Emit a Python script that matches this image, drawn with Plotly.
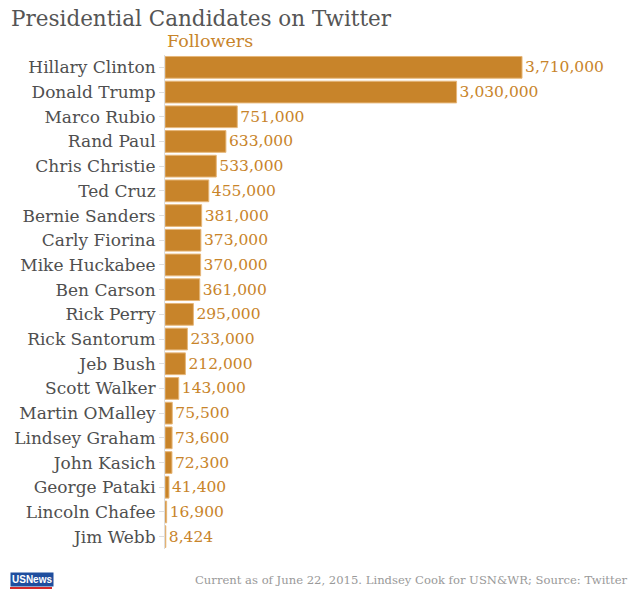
import plotly.graph_objects as go

# candidates, top to bottom as in the chart
candidates = ["Hillary Clinton", "Donald Trump", "Marco Rubio", "Rand Paul",
              "Chris Christie", "Ted Cruz", "Bernie Sanders", "Carly Fiorina",
              "Mike Huckabee", "Ben Carson", "Rick Perry", "Rick Santorum",
              "Jeb Bush", "Scott Walker", "Martin OMalley", "Lindsey Graham",
              "John Kasich", "George Pataki", "Lincoln Chafee", "Jim Webb"]
followers = [3710000, 3030000, 751000, 633000, 533000, 455000, 381000, 373000,
             370000, 361000, 295000, 233000, 212000, 143000, 75500, 73600,
             72300, 41400, 16900, 8424]

orange = "#c8842a"
font = "DejaVu Serif"

# plot area in pixels, used to place the outside texts
L, R, T, B = 165, 20, 55, 42
W, H = 640, 591
pw = W - L - R


def px_x(x):
    return (x - L) / pw


def px_y(y):
    return (H - B - y) / (H - T - B)


fig = go.Figure()
fig.add_trace(go.Bar(
    x=followers,
    y=candidates,
    orientation="h",
    marker=dict(color=orange, line=dict(color="#e6b77a", width=1)),
    text=[f"{v:,}" for v in followers],
    textposition="outside",
    textfont=dict(family=font, size=15.5, color=orange),
    cliponaxis=False,
    hoverinfo="x+y",
))

fig.update_layout(
    width=W, height=H,
    margin=dict(l=L, r=R, t=T, b=B),
    plot_bgcolor="white", paper_bgcolor="white",
    bargap=0.12,
    showlegend=False,
    font=dict(family=font, color="#555555"),
)
fig.update_xaxes(range=[0, 4.728e6], visible=False)
fig.update_yaxes(
    categoryorder="array", categoryarray=candidates[::-1],
    showline=True, linecolor="#dddddd", linewidth=1,
    ticks="outside", ticklen=5, tickcolor="#dddddd",
    tickfont=dict(family=font, size=17, color="#4f4f4f"),
    showgrid=False,
)

# title, subtitle and footer
fig.add_annotation(text="Presidential Candidates on Twitter", xref="paper", yref="paper",
                   x=px_x(9), y=1, yshift=37, xanchor="left", yanchor="middle",
                   showarrow=False, font=dict(family=font, size=21.5, color="#555555"))
fig.add_annotation(text="Followers", xref="paper", yref="paper",
                   x=0, y=1, yshift=14, xanchor="left", yanchor="middle",
                   showarrow=False, font=dict(family=font, size=17.5, color=orange))
fig.add_annotation(text="Current as of June 22, 2015. Lindsey Cook for USN&WR; Source: Twitter",
                   xref="paper", yref="paper", x=px_x(630), y=0, yshift=-31,
                   xanchor="right", yanchor="middle", showarrow=False,
                   font=dict(family=font, size=11.6, color="#999999"))
# USNews logo
fig.add_annotation(text="<b>USNews</b>", xref="paper", yref="paper",
                   x=px_x(10), y=0, yshift=-30, xanchor="left", yanchor="middle",
                   showarrow=False, bgcolor="#1f4e9e", borderpad=1,
                   font=dict(family="Liberation Sans", size=10, color="white"))
fig.add_shape(type="line", xref="paper", yref="paper",
              x0=px_x(10), x1=px_x(52), y0=px_y(588), y1=px_y(588),
              line=dict(color="#d42a2a", width=2))

fig.write_html("out.html", config={"displayModeBar": False},
               post_script="document.body.style.margin='0';")
